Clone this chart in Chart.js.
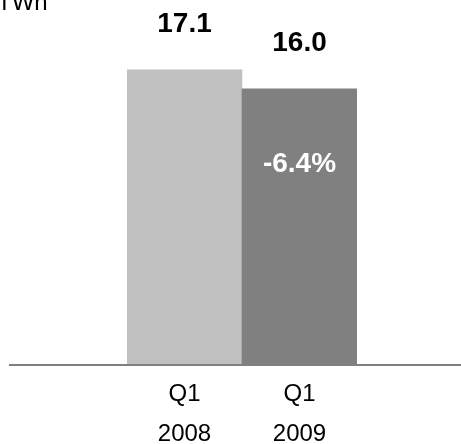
<!DOCTYPE html>
<html>
<head>
<meta charset="utf-8">
<script src="https://cdn.jsdelivr.net/npm/chart.js@4/dist/chart.umd.min.js"></script>
<style>
  html, body { margin: 0; padding: 0; background: #fff; }
  #wrap { width: 461px; height: 444px; position: relative; }
</style>
</head>
<body>
<div id="wrap"><canvas id="chart"></canvas></div>
<script>
// data
const categories = [['Q1', '2008'], ['Q1', '2009']];
const energyTWh = [17.1, 16.0];
const valueLabels = ['17.1', '16.0'];
const changeLabel = '-6.4%';
const unitLabel = 'TWh';
const barColors = ['#c0c0c0', '#808080'];

const FONT = "'Liberation Sans', Arial, sans-serif";

// baseline across the whole width, value labels and unit text
const extras = {
    id: 'extras',
    afterDatasetsDraw(chart) {
        const ctx = chart.ctx;
        const y0 = chart.scales.y.getPixelForValue(0);
        ctx.save();
        ctx.strokeStyle = '#808080';
        ctx.lineWidth = 2;
        ctx.beginPath();
        ctx.moveTo(9, y0 + 1);
        ctx.lineTo(chart.width, y0 + 1);
        ctx.stroke();

        ctx.textAlign = 'center';
        ctx.textBaseline = 'middle';
        ctx.font = 'bold 28px ' + FONT;
        ctx.fillStyle = '#000';
        const bars = chart.getDatasetMeta(0).data;
        bars.forEach((bar, i) => {
            ctx.fillText(valueLabels[i], bar.x, bar.y - 46);
        });
        // change in the second bar
        const last = bars[bars.length - 1];
        ctx.fillStyle = '#fff';
        ctx.fillText(changeLabel, last.x, last.y + 75);

        ctx.font = '24px ' + FONT;
        ctx.fillStyle = '#000';
        ctx.textAlign = 'left';
        ctx.textBaseline = 'alphabetic';
        ctx.fillText(unitLabel, -3, 10);
        ctx.restore();
    }
};

new Chart(document.getElementById('chart'), {
    type: 'bar',
    data: {
        labels: categories,
        datasets: [{
            data: energyTWh,
            backgroundColor: barColors,
            borderWidth: 0,
            barPercentage: 1,
            categoryPercentage: 1
        }]
    },
    options: {
        responsive: true,
        maintainAspectRatio: false,
        animation: false,
        layout: { padding: { left: 127, right: 104, top: 20, bottom: 0 } },
        plugins: { legend: { display: false }, tooltip: { enabled: false } },
        scales: {
            x: {
                grid: { display: false, drawTicks: false },
                border: { display: false },
                ticks: {
                    color: '#000',
                    padding: 10,
                    font: { family: FONT, size: 24, lineHeight: 1.67 }
                },
                afterFit(scale) { scale.height = 80; }
            },
            y: {
                display: false,
                min: 0,
                max: 20
            }
        }
    },
    plugins: [extras]
});
</script>
</body>
</html>
